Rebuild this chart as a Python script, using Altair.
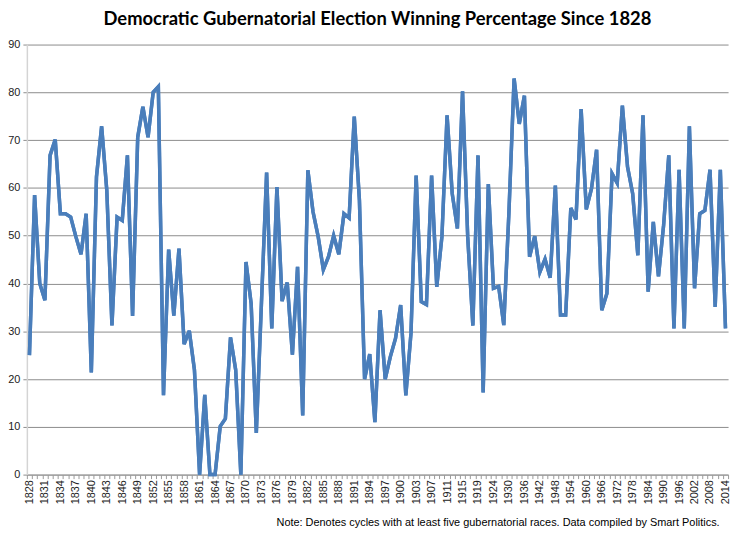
import altair as alt
import pandas as pd

years = (list(range(1828, 1904))
         + [1904, 1906, 1907, 1908, 1910, 1911, 1912, 1914, 1915, 1916, 1918, 1919, 1920, 1922]
         + list(range(1924, 2015, 2)))

pct = [25.0, 58.5, 40.0, 36.5, 66.8, 70.1, 54.6, 54.6, 53.9, 49.8,
       46.1, 54.6, 21.4, 62.3, 72.9, 59.5, 31.2, 53.9, 53.2, 66.8,
       33.2, 70.6, 77.0, 70.6, 80.0, 81.2, 16.6, 47.1, 33.3, 47.3,
       27.3, 30.1, 21.9, 0.0, 16.7, 0.0, 0.0, 10.1, 11.7, 28.7,
       21.9, 0.0, 44.5, 35.8, 8.7, 36.0, 63.2, 30.6, 60.2, 36.3,
       40.2, 25.1, 43.5, 12.4, 63.7, 55.0, 49.8, 42.9, 45.6, 50.0,
       46.1, 54.6, 53.7, 74.9, 57.4, 20.0, 25.2, 11.0, 34.4, 20.0,
       24.7, 28.5, 35.5, 16.6, 29.6, 62.6, 36.2, 35.6, 62.6, 39.3,
       49.8, 75.2, 58.8, 51.5, 80.2, 49.8, 31.2, 66.8, 17.2, 60.8,
       39.0, 39.4, 31.3, 55.0, 82.9, 73.4, 79.3, 45.6, 49.9, 42.4,
       45.1, 41.2, 60.5, 33.4, 33.4, 55.8, 53.4, 76.5, 55.5, 59.8,
       68.0, 34.4, 37.9, 63.0, 61.0, 77.2, 64.4, 58.8, 45.9, 75.2,
       38.3, 52.9, 41.5, 52.2, 66.8, 30.6, 63.8, 30.6, 72.9, 39.0,
       54.6, 55.3, 63.8, 35.1, 63.8, 30.6]

title_text = "Democratic Gubernatorial Election Winning Percentage Since 1828"
note_text = "Note:  Denotes cycles with at least five gubernatorial races. Data compiled by Smart Politics."

n = len(years)
df = pd.DataFrame({"idx": list(range(n)), "year": years, "pct": pct})

label_values = list(range(0, n, 3))
tick_values = [i - 0.5 for i in range(n + 1)]
label_expr = "[" + ",".join("'%d'" % y for y in years) + "][datum.value]"

FONT = "Liberation Sans"
xscale = alt.Scale(domain=[-0.5, n - 0.5], nice=False, zero=False)
yscale = alt.Scale(domain=[0, 90], nice=False)

y_enc = alt.Y("pct:Q", scale=yscale,
              axis=alt.Axis(values=list(range(0, 91, 10)), title=None,
                            grid=True, gridColor="#8c8c8c", gridWidth=1,
                            domain=True, domainColor="#d4d4d4", domainWidth=1.5,
                            tickSize=4, tickColor="#8c8c8c",
                            labelFont=FONT, labelFontSize=11, labelColor="#222222",
                            labelPadding=3))

ticks_layer = alt.Chart(df).mark_line(color="#4a7ebb", strokeWidth=3.5).encode(
    x=alt.X("idx:Q", scale=xscale,
            axis=alt.Axis(values=tick_values, labels=False, grid=False,
                          tickSize=4, tickColor="#9a9a9a", domainColor="#9a9a9a",
                          orient="bottom", title=None)),
    y=y_enc,
)

labels_layer = alt.Chart(df).mark_line(color="#4a7ebb", strokeWidth=3.5).encode(
    x=alt.X("idx:Q", scale=xscale,
            axis=alt.Axis(values=label_values, labelExpr=label_expr, labelAngle=270,
                          labelFont=FONT, labelFontSize=11, labelColor="#222222",
                          labelPadding=5, tickSize=0, domain=False, grid=False,
                          orient="bottom",
                          title=note_text, titleFont=FONT, titleFontSize=11,
                          titleFontWeight="normal", titleColor="#000000",
                          titleAnchor="end", titleAlign="right", titleX=697, titleY=51,
                          titleBaseline="alphabetic")),
    y=y_enc,
)

chart = alt.layer(ticks_layer, labels_layer).resolve_axis(x="independent").properties(
    width=706, height=433,
    title=alt.TitleParams(title_text, font="Lato", fontSize=18.5, fontWeight="bold",
                          color="#000000", anchor="middle", offset=10),
    autosize=alt.AutoSizeParams(type="none"),
    padding={"left": 19, "top": 35, "right": 10, "bottom": 60},
).configure_view(stroke=None)

chart.save("out.html", embed_options={"renderer": "svg", "actions": False})
